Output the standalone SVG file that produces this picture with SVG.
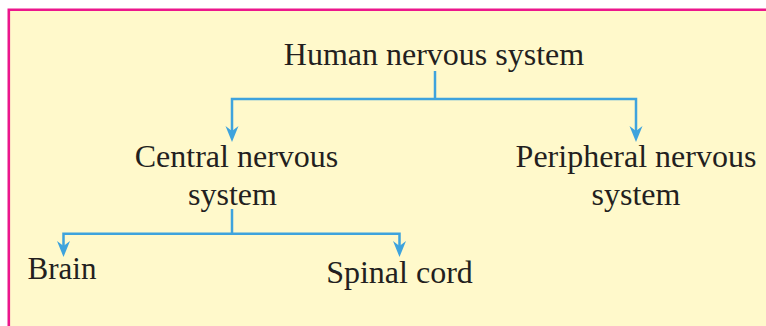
<svg xmlns="http://www.w3.org/2000/svg" width="766" height="326" viewBox="0 0 766 326">
  <style>
    .label { font-family: "Liberation Serif", "Times New Roman", serif; font-size: 32px; fill: #231f20; text-anchor: middle; }
    .link { fill: none; stroke: #3ea3dd; stroke-width: 2.5; stroke-linejoin: miter; }
  </style>
  <defs>
    <marker id="arrow" markerUnits="userSpaceOnUse" markerWidth="20" markerHeight="20" refX="-6" refY="0" orient="auto" overflow="visible">
      <path d="M0,0 L-16,-6.5 L-11,0 L-16,6.5 Z" fill="#3ea3dd"/>
    </marker>
  </defs>

  <!-- panel -->
  <rect x="0" y="0" width="766" height="326" fill="#ffffff"/>
  <rect x="8.8" y="9.7" width="760" height="320" fill="#fff9cb"/>
  <path d="M8.8,326 V9.7 H766" fill="none" stroke="#ec168c" stroke-width="2.6"/>

  <!-- connectors -->
  <g id="connectors">
    <path class="link" d="M435,71 V99"/>
    <path class="link" d="M435,99 H232 V136" marker-end="url(#arrow)"/>
    <path class="link" d="M435,99 H636 V136" marker-end="url(#arrow)"/>
    <path class="link" d="M232,209 V233.7"/>
    <path class="link" d="M232,233.7 H63.5 V251" marker-end="url(#arrow)"/>
    <path class="link" d="M232,233.7 H399.5 V251" marker-end="url(#arrow)"/>
  </g>

  <!-- nodes -->
  <g id="node-human">
    <text class="label" x="434" y="65">Human nervous system</text>
  </g>
  <g id="node-central">
    <text class="label" x="236.5" y="167">Central nervous</text>
    <text class="label" x="232.5" y="205">system</text>
  </g>
  <g id="node-peripheral">
    <text class="label" x="636" y="167">Peripheral nervous</text>
    <text class="label" x="636" y="205">system</text>
  </g>
  <g id="node-brain">
    <text class="label" x="62" y="279" style="font-size:31px">Brain</text>
  </g>
  <g id="node-spinal">
    <text class="label" x="399.5" y="283">Spinal cord</text>
  </g>
</svg>
